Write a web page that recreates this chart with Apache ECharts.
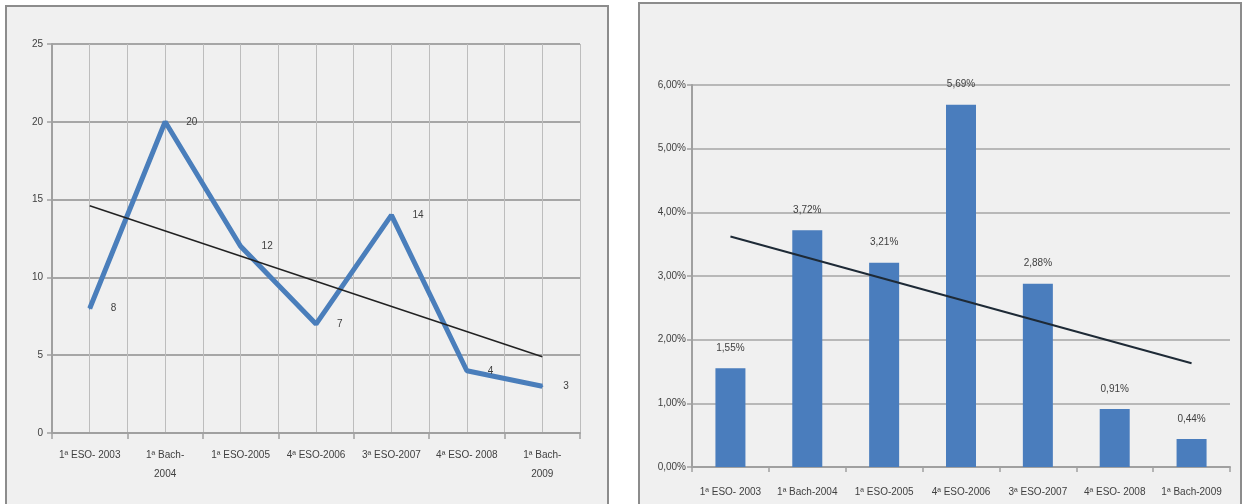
<!DOCTYPE html>
<html>
<head>
<meta charset="utf-8">
<script src="https://cdn.jsdelivr.net/npm/echarts@6/dist/echarts.min.js"></script>
<style>
  body { margin: 0; background: #fff; }
  .panel { position: absolute; background: #f0f0f0; border: 2px solid #8c8c8c; }
  #chart { position: absolute; left: 0; top: 0; width: 1248px; height: 504px; }
</style>
</head>
<body>
<div class="panel" style="left:5px;top:5px;width:600px;height:520px;"></div>
<div class="panel" style="left:638px;top:2px;width:600px;height:520px;"></div>
<div id="chart"></div>
<script>
// cursos (mismas categorias en los dos graficos)
var categories = ["1ª ESO- 2003", "1ª Bach-2004", "1ª ESO-2005", "4ª ESO-2006", "3ª ESO-2007", "4ª ESO- 2008", "1ª Bach-2009"];
// grafico de lineas (izquierda)
var lineValues = [8, 20, 12, 7, 14, 4, 3];
var lineTrend = [14.6, null, null, null, null, null, 4.9];
var leftTicks = [0, 5, 10, 15, 20, 25];
// grafico de barras (derecha), en %
var barValues = [1.55, 3.72, 3.21, 5.69, 2.88, 0.91, 0.44];
var barTrend = [3.62, null, null, null, null, null, 1.63];
var rightTicks = [0, 1, 2, 3, 4, 5, 6];

var txt = "#404040";
var font = "Liberation Sans";

function pct(v) {
    return v.toFixed(2).replace(".", ",") + "%";
}

var myChart = echarts.init(document.getElementById("chart"));

var option = {
    backgroundColor: "transparent",
    animation: false,
    textStyle: { fontFamily: font },
    grid: [
        { left: 52, top: 44, width: 528, height: 389 },
        { left: 692, top: 85, width: 538, height: 382 }
    ],
    xAxis: [
        {
            type: "category",
            gridIndex: 0,
            data: categories,
            boundaryGap: true,
            axisLine: { lineStyle: { color: "#a0a0a0", width: 2 } },
            axisTick: { show: true, interval: 0, length: 6, lineStyle: { color: "#a0a0a0", width: 1.5 } },
            axisLabel: {
                interval: 0,
                margin: 13,
                fontSize: 10,
                lineHeight: 19,
                color: txt,
                fontFamily: font,
                formatter: function (v) { return v.replace("Bach-", "Bach-\n"); }
            },
            splitLine: { show: false }
        },
        {
            // lineas verticales del fondo (limites y centros de categoria)
            type: "value",
            gridIndex: 0,
            min: 0,
            max: 7,
            interval: 0.5,
            show: true,
            axisLine: { show: false },
            axisTick: { show: false },
            axisLabel: { show: false },
            splitLine: { show: true, lineStyle: { color: "#bdbdbd", width: 1 } }
        },
        {
            type: "category",
            gridIndex: 1,
            data: categories,
            boundaryGap: true,
            axisLine: { lineStyle: { color: "#a0a0a0", width: 2 } },
            axisTick: { show: true, interval: 0, length: 5, lineStyle: { color: "#a0a0a0", width: 1.5 } },
            axisLabel: { interval: 0, margin: 20, fontSize: 10, color: txt, fontFamily: font },
            splitLine: { show: false }
        }
    ],
    yAxis: [
        {
            type: "value",
            gridIndex: 0,
            min: leftTicks[0],
            max: leftTicks[leftTicks.length - 1],
            interval: 5,
            axisLine: { show: true, lineStyle: { color: "#a0a0a0", width: 2 } },
            axisTick: { show: true, length: 5, lineStyle: { color: "#a0a0a0", width: 1.5 } },
            axisLabel: { margin: 9, fontSize: 10, color: txt, fontFamily: font },
            splitLine: { show: true, lineStyle: { color: "#a6a6a6", width: 2 } }
        },
        {
            type: "value",
            gridIndex: 1,
            min: rightTicks[0],
            max: rightTicks[rightTicks.length - 1],
            interval: 1,
            axisLine: { show: true, lineStyle: { color: "#a0a0a0", width: 2 } },
            axisTick: { show: true, length: 5, lineStyle: { color: "#a0a0a0", width: 1.5 } },
            axisLabel: { margin: 6, fontSize: 10, color: txt, fontFamily: font, formatter: pct },
            splitLine: { show: true, lineStyle: { color: "#a6a6a6", width: 1.5 } }
        }
    ],
    series: [
        {
            name: "alumnos",
            type: "line",
            xAxisIndex: 0,
            yAxisIndex: 0,
            data: lineValues,
            symbol: "circle",
            symbolSize: 2,
            color: "#4a7ebb",
            lineStyle: { color: "#4a7ebb", width: 5 },
            label: { show: true, position: "right", distance: 20, fontSize: 10, color: txt, fontFamily: font },
            z: 3
        },
        {
            name: "tendencia",
            type: "line",
            xAxisIndex: 0,
            yAxisIndex: 0,
            data: lineTrend,
            connectNulls: true,
            symbol: "none",
            lineStyle: { color: "#222222", width: 1.5 },
            z: 4
        },
        {
            name: "porcentaje",
            type: "bar",
            xAxisIndex: 2,
            yAxisIndex: 1,
            data: barValues,
            barWidth: 30,
            itemStyle: { color: "#4a7dbd" },
            label: {
                show: true,
                position: "top",
                distance: 15,
                fontSize: 10,
                color: txt,
                fontFamily: font,
                formatter: function (p) { return pct(p.value); }
            }
        },
        {
            name: "tendencia2",
            type: "line",
            xAxisIndex: 2,
            yAxisIndex: 1,
            data: barTrend,
            connectNulls: true,
            symbol: "none",
            lineStyle: { color: "#1e2a36", width: 2 },
            z: 4
        }
    ]
};

myChart.setOption(option);
</script>
</body>
</html>
